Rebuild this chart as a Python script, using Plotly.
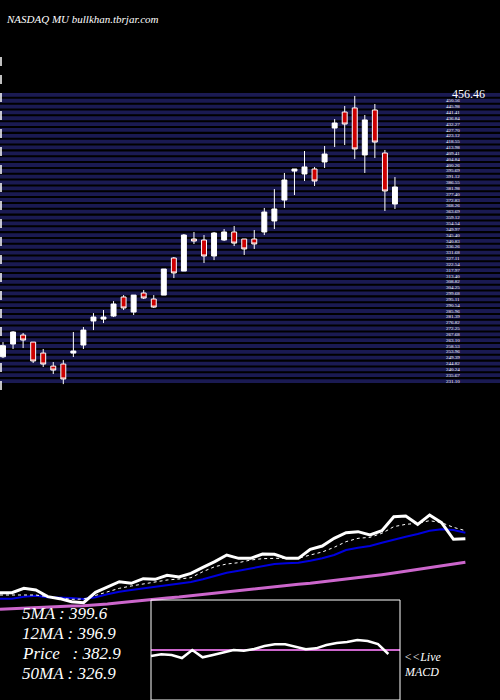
import numpy as np
import plotly.graph_objects as go

# candles (price)
opens = [250.0, 260.0, 267.0, 261.5, 252.9, 242.7, 244.3, 252.9, 259.2, 278.0,
         279.5, 281.9, 296.8, 285.0, 299.9, 295.2, 298.3, 327.3, 317.1, 342.2,
         341.4, 328.9, 341.4, 347.7, 342.2, 342.2, 347.7, 356.3, 372.7, 395.4,
         393.1, 397.0, 402.5, 429.1, 441.6, 444.8, 408.0, 443.2, 409.5, 369.6]
highs = [261.5, 270.1, 268.6, 261.5, 256.1, 245.9, 247.4, 269.4, 273.3, 284.2,
         286.6, 293.6, 298.3, 298.3, 302.2, 298.3, 318.7, 328.1, 346.1, 347.7,
         345.3, 347.7, 350.0, 352.4, 342.2, 349.2, 366.5, 381.3, 393.9, 397.0,
         411.1, 398.6, 415.0, 436.1, 446.3, 454.2, 439.3, 447.9, 411.9, 390.7]
lows = [249.0, 256.1, 256.8, 245.1, 242.0, 236.5, 228.6, 249.8, 256.1, 270.9,
        276.4, 281.1, 286.6, 282.7, 295.2, 288.2, 298.3, 311.6, 317.1, 338.3,
        323.4, 325.7, 340.6, 336.7, 329.7, 334.4, 345.3, 350.0, 366.5, 376.6,
        387.6, 383.7, 397.8, 414.2, 415.8, 404.8, 393.9, 405.6, 364.1, 365.7]
closes = [258.6, 269.4, 263.1, 246.7, 244.3, 239.6, 232.6, 254.5, 270.9, 281.1,
          281.1, 291.3, 288.2, 298.3, 296.0, 288.9, 318.7, 315.6, 345.3, 340.6,
          328.9, 346.9, 347.7, 339.0, 334.4, 338.3, 363.3, 365.7, 388.4, 397.0,
          398.6, 387.6, 408.7, 433.0, 432.2, 412.7, 435.4, 418.1, 379.8, 382.9]

# lower panel lines (screen-depth units, larger = lower)
price_line = [278, 278, 265, 270, 290, 296, 305, 308, 277, 260, 245, 250, 236, 238, 226, 231,
              220, 202, 185, 165, 175, 175, 162, 163, 175, 175, 148, 138, 115, 98, 95, 105,
              92, 50, 48, 73, 45, 68, 118, 116]
ma5 = [285, 285, 283, 285, 290, 294, 298, 297, 287, 275, 265, 258, 252, 245, 240, 237,
       233, 215, 200, 192, 188, 180, 176, 175, 175, 175, 165, 156, 142, 125, 115, 112,
       100, 80, 73, 70, 62, 68, 82, 92]
ma12 = [296, 296, 290, 287, 292, 292, 294, 297, 292, 283, 275, 270, 265, 260, 256, 252,
        246, 238, 228, 218, 212, 205, 198, 192, 190, 188, 182, 175, 165, 150, 143, 138,
        128, 118, 110, 102, 92, 88, 90, 98]
ma50 = [328, 326, 324, 323, 321, 319, 318, 317, 315, 312, 308, 304, 300, 297, 294, 291,
        287, 283, 279, 276, 272, 268, 264, 260, 257, 253, 250, 246, 242, 238, 234, 229,
        224, 219, 214, 209, 204, 199, 193, 187]
macd = [468, 463, 465, 474, 450, 472, 465, 457, 450, 452, 447, 438, 433, 433, 440, 448,
        445, 435, 429, 426, 420, 423, 432, 462]
macd_zero = 450

labels = ["5MA : 399.6", "12MA : 396.9", "Price   : 382.9", "50MA : 326.9"]

W, H = 500, 700
serif = "Liberation Serif"
fig = go.Figure()

fig.add_trace(go.Candlestick(
    x=list(range(len(opens))), open=opens, high=highs, low=lows, close=closes,
    increasing=dict(line=dict(color="white", width=1), fillcolor="white"),
    decreasing=dict(line=dict(color="white", width=1), fillcolor="#cc0000"),
    whiskerwidth=0, xaxis="x", yaxis="y"))

n = len(price_line)
idx = list(range(n))
fig.add_trace(go.Scatter(x=idx, y=ma50, mode="lines", line=dict(color="#cc66cc", width=3), xaxis="x2", yaxis="y2"))
fig.add_trace(go.Scatter(x=idx, y=ma12, mode="lines", line=dict(color="#0000dd", width=2), xaxis="x2", yaxis="y2"))
fig.add_trace(go.Scatter(x=idx, y=ma5, mode="lines", line=dict(color="white", width=1, dash="dot"), xaxis="x2", yaxis="y2"))
fig.add_trace(go.Scatter(x=idx, y=price_line, mode="lines", line=dict(color="white", width=3), xaxis="x2", yaxis="y2"))

mx = np.linspace(453 / 35.8, 1165 / 35.8, len(macd))
fig.add_trace(go.Scatter(x=[mx[0], 1200 / 35.8], y=[macd_zero, macd_zero], mode="lines",
                         line=dict(color="#cc66cc", width=2), xaxis="x2", yaxis="y2"))
fig.add_trace(go.Scatter(x=mx, y=macd, mode="lines", line=dict(color="white", width=2.5), xaxis="x2", yaxis="y2"))

# price axis: px 93 -> 456.5, px 385 -> 227.9
ytop, ybot = 456.5, 227.9
nstripe = 50
step = (ytop - ybot) / nstripe
shapes = []
ticks = []
for k in range(nstripe):
    y1 = ytop - k * step
    shapes.append(dict(type="rect", xref="paper", yref="y", x0=0, x1=1, y0=y1 - step * 0.65, y1=y1,
                       fillcolor="#1a1a52", line=dict(width=0), layer="below"))
    ticks.append(y1 - step * 0.3)
shapes.append(dict(type="line", xref="paper", yref="paper", x0=0.002, x1=0.002, y0=1 - 390 / H, y1=1 - 55 / H,
                   line=dict(color="white", width=1.5, dash="dash")))
shapes.append(dict(type="rect", xref="paper", yref="paper", x0=151 / W, x1=400 / W, y0=0, y1=1 - 600 / H,
                   line=dict(color="white", width=1)))

ann = [dict(text="NASDAQ MU bullkhan.tbrjar.com", x=4 / W, y=1 - 11 / H, xref="paper", yref="paper",
            xanchor="left", showarrow=False, font=dict(family=serif, size=11, color="white", style="italic")),
       dict(text="456.46", x=450 / W, y=1 - 85 / H, xref="paper", yref="paper", xanchor="left",
            showarrow=False, font=dict(family=serif, size=12, color="white"))]
for i, t in enumerate(labels):
    ann.append(dict(text=t, x=20 / W, y=1 - (625 + 20 * i) / H, xref="paper", yref="paper", xanchor="left",
                    showarrow=False, font=dict(family=serif, size=17, color="white", style="italic")))
for i, t in enumerate(["<<Live", "MACD"]):
    ann.append(dict(text=t, x=402 / W, y=1 - (666 + 15 * i) / H, xref="paper", yref="paper", xanchor="left",
                    showarrow=False, font=dict(family=serif, size=12, color="white", style="italic")))

fig.update_layout(
    width=W, height=H, margin=dict(l=0, r=0, t=0, b=0),
    paper_bgcolor="black", plot_bgcolor="rgba(0,0,0,0)", showlegend=False,
    shapes=shapes, annotations=ann,
    xaxis=dict(domain=[0, 445 / W], range=[-0.3, 43.98], visible=False, rangeslider=dict(visible=False)),
    yaxis=dict(domain=[1 - 385 / H, 1 - 93 / H], range=[ybot, ytop], side="right", showgrid=False,
               tickvals=ticks[1:], ticktext=[f"{v:.2f}" for v in ticks[1:]], ticks="",
               tickfont=dict(family=serif, size=5, color="white"), zeroline=False),
    xaxis2=dict(domain=[0, 1], range=[0, 41.9], visible=False, anchor="y2"),
    yaxis2=dict(domain=[0, 200 / H], range=[600, 0], visible=False, anchor="x2"),
)

fig.write_html("out.html", config={"displayModeBar": False},
               post_script="document.body.style.margin='0';document.body.style.background='black';")
